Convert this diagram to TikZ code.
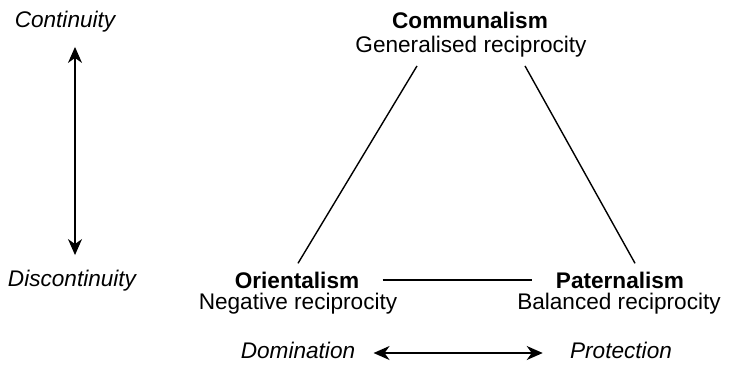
\documentclass[tikz,border=0pt]{standalone}
\usepackage{fontspec}
\setmainfont{Liberation Sans}
\usetikzlibrary{arrows.meta}

\begin{document}
\begin{tikzpicture}[x=0.5pt,y=-0.5pt,
    txt/.style={font=\fontsize{11.3}{12}\selectfont,inner sep=0pt},
    axis/.style={txt,font=\fontsize{11.3}{12}\selectfont\itshape},
    tip/.style={{Stealth[length=8pt,width=7pt,inset=2.5pt]}-{Stealth[length=8pt,width=7pt,inset=2.5pt]}}]
    \useasboundingbox (0,0) rectangle (731,364);
    % axis labels
    \node[axis] (cont) at (65,22) {Continuity};
    \node[axis] (disc) at (72,281) {Discontinuity};
    \node[axis] (dom) at (298,350) {Domination};
    \node[axis] (prot) at (621,350) {Protection};
    % the three corners
    \node[txt] (comm) at (470,20) {\textbf{Communalism}};
    \node[txt] (gen) at (471,47) {Generalised reciprocity};
    \node[txt] (ori) at (297,280) {\textbf{Orientalism}};
    \node[txt] (neg) at (298,304) {Negative reciprocity};
    \node[txt] (pat) at (620,280) {\textbf{Paternalism}};
    \node[txt] (bal) at (619,304) {Balanced reciprocity};
    % triangle
    \draw[line width=0.7pt] ([shift={(-54,8)}]gen.south) -- ([shift={(1,-8)}]ori.north);
    \draw[line width=0.7pt] ([shift={(54,8)}]gen.south) -- ([shift={(15,-8)}]pat.north);
    \draw[line width=0.7pt,shorten <=11.5pt,shorten >=12pt] (ori.east) -- (pat.west);
    % arrows
    \draw[tip,line width=0.7pt] ([shift={(10,14)}]cont.south) -- ([shift={(3,-15)}]disc.north);
    \draw[tip,line width=0.7pt,shorten <=9pt,shorten >=13.5pt] ([yshift=-1.5pt]dom.east) -- ([yshift=-1.5pt]prot.west);
\end{tikzpicture}
\end{document}
